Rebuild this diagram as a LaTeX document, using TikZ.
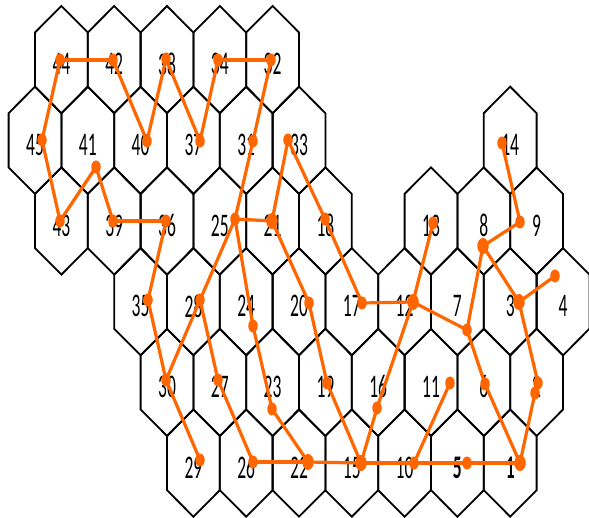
\documentclass[tikz,border=0pt]{standalone}
\usepackage{fontspec}
\newfontfamily\lblfont[FakeStretch=0.53]{Carlito}
\usetikzlibrary{shapes.geometric}
\definecolor{dotorange}{RGB}{255,102,0}
\begin{document}
\begin{tikzpicture}[x=1pt,y=-1pt,
  hexcell/.style={draw=black, line width=1.8pt, line join=miter},
  lbl/.style={font=\lblfont\fontsize{33}{33}\selectfont, inner sep=0pt, text=black},
  lblb/.style={font=\lblfont\bfseries\fontsize{33}{33}\selectfont, inner sep=0pt, text=black},
  dot/.style={ellipse, fill=dotorange, inner sep=0pt, minimum width=9.5pt, minimum height=13pt},
  bigdot/.style={ellipse, fill=dotorange, inner sep=0pt, minimum width=11.5pt, minimum height=16pt},
  link/.style={draw=dotorange, line width=3.2pt, line cap=round}]
\useasboundingbox (0,0) rectangle (589,518);
\begin{scope}
\clip (0,0) rectangle (589,518);
\foreach \r/\k/\l/\s in {
  1/0/44/lbl, 1/1/42/lbl, 1/2/38/lbl, 1/3/34/lbl, 1/4/32/lbl,
  2/0/45/lbl, 2/1/41/lbl, 2/2/40/lbl, 2/3/37/lbl, 2/4/31/lbl, 2/5/33/lbl, 2/9/14/lbl,
  3/0/43/lbl, 3/1/39/lbl, 3/2/36/lbl, 3/3/25/lbl, 3/4/21/lbl, 3/5/18/lbl, 3/7/13/lbl, 3/8/8/lbl, 3/9/9/lbl,
  4/2/35/lbl, 4/3/28/lbl, 4/4/24/lbl, 4/5/20/lbl, 4/6/17/lbl, 4/7/12/lbl, 4/8/7/lbl, 4/9/3/lbl, 4/10/4/lbl,
  5/2/30/lbl, 5/3/27/lbl, 5/4/23/lbl, 5/5/19/lbl, 5/6/16/lbl, 5/7/11/lbl, 5/8/6/lbl, 5/9/2/lbl,
  6/3/29/lbl, 6/4/26/lbl, 6/5/22/lbl, 6/6/15/lbl, 6/7/10/lbl, 6/8/5/lblb, 6/9/1/lblb}
{
  \pgfmathsetmacro{\hx}{(isodd(\r) ? 61.4 : 35) + 52.8*\k}
  \pgfmathsetmacro{\hy}{59.6 + 80.7*(\r-1)}
  \draw[hexcell] ({\hx},{\hy-53.6}) -- ++(26.4,26.5) -- ++(0,54.2) -- ++(-26.4,26.5)
     -- ++(-26.4,-26.5) -- ++(0,-54.2) -- cycle;
  \node[\s] (h\l) at ({\hx},{\hy+4.5}) {\l};
}
\end{scope}
\foreach \n/\x/\y/\s in {
  4/555/276/dot, 3/519/302/bigdot, 2a/538/383/dot, 2b/535/393/dot, 1/520/463/bigdot,
  5/467/463/dot, 6/485/384/dot, 7/467/330/dot, 8/483/246/bigdot, 9/520/222/dot,
  14/502/143/dot, 13/433/223/dot, 12/413/302/bigdot, 11/450/383/dot, 10/414/463/dot,
  16/377/408/dot, 15/361/463/bigdot, 17/362/303/dot, 18/325/219/dot, 19/327/383/dot,
  20/309/303/dot, 21/272/221/bigdot, 22/308/462/bigdot, 23/272/409/dot, 24/253/326/dot,
  25/235/219/dot, 26/253/462/dot, 27/218/380/dot, 28/200/300/dot, 29/200/460/dot,
  30/166/380/dot, 31/253/141/dot, 32/271/60/dot, 33/288/140/dot, 34/218/60/dot,
  35/148/300/dot, 36/166/221/dot, 37/200/141/dot, 38/166/59/dot, 39/113/221/dot,
  40/147/141/dot, 41/96/167/dot, 42/113/60/dot, 43/60/221/dot, 44/60/60/dot, 45/42/140/dot}
{
  \node[\s] (d\n) at (\x,\y) {};
}
\foreach \a/\b in {4/3, 3/8, 8/9, 9/14, 8/7, 7/12, 7/6, 6/1, 3/2a, 2a/2b, 2b/1,
  1/5, 5/10, 10/15, 15/22, 22/26, 10/11, 15/16, 16/12, 12/13, 15/19, 19/20, 20/21,
  12/17, 17/18, 18/33, 33/21, 21/25, 25/31, 31/32, 32/34, 34/37, 37/38, 38/40,
  40/42, 42/44, 44/45, 45/43, 43/41, 41/39, 39/36, 36/35, 35/30, 30/29, 30/28,
  28/25, 28/27, 27/26, 25/24, 24/23, 23/22}
{
  \draw[link] (d\a.center) -- (d\b.center);
}
\end{tikzpicture}
\end{document}
